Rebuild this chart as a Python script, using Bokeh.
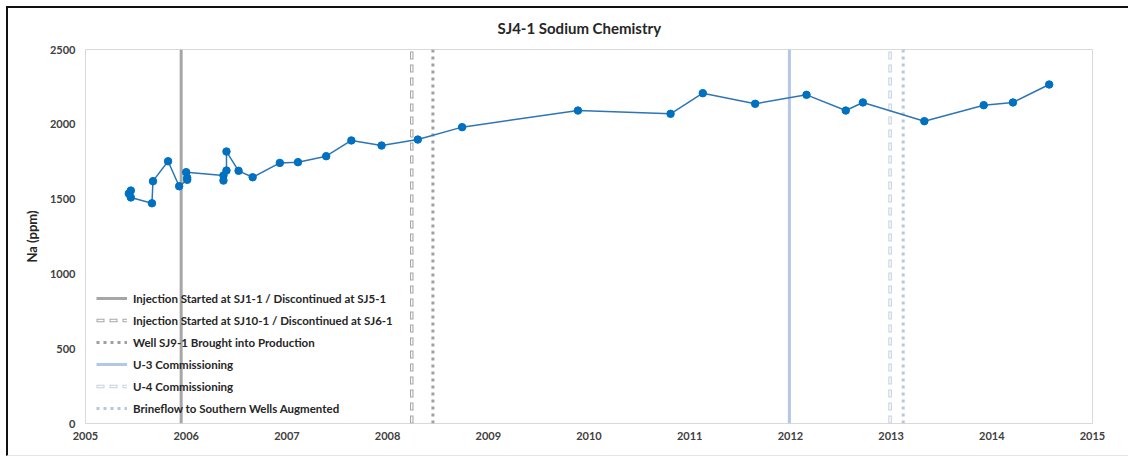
from bokeh.plotting import figure
from bokeh.models import Legend, LegendItem, FixedTicker
from bokeh.embed import file_html
from bokeh.resources import INLINE

# ---- data ----
years = [2005.43, 2005.45, 2005.45, 2005.66, 2005.67, 2005.82, 2005.93, 2006.01, 2006.01, 2006.00,
         2006.37, 2006.37, 2006.40, 2006.40, 2006.52, 2006.66, 2006.93, 2007.11, 2007.39, 2007.64,
         2007.94, 2008.30, 2008.74, 2009.89, 2010.81, 2011.13, 2011.65, 2012.16, 2012.55, 2012.72,
         2013.33, 2013.92, 2014.21, 2014.57]
na_ppm = [1537, 1557, 1511, 1472, 1620, 1753, 1586, 1629, 1642, 1680,
          1658, 1624, 1691, 1818, 1689, 1646, 1742, 1747, 1787, 1892,
          1858, 1898, 1981, 2092, 2070, 2208, 2137, 2197, 2092, 2146,
          2021, 2128, 2146, 2266]

event_labels = ["Injection Started at SJ1-1 / Discontinued at SJ5-1",
                "Injection Started at SJ10-1 / Discontinued at SJ6-1",
                "Well SJ9-1 Brought into Production",
                "U-3 Commissioning",
                "U-4 Commissioning",
                "Brineflow to Southern Wells Augmented"]
event_years = [2005.95, 2008.24, 2008.45, 2011.99, 2012.99, 2013.12]
event_styles = ["solid", "hollow", "dotted", "solid", "hollow", "dotted"]
event_colors = ["#a6a6a6", "#a6a6a6", "#a0a0a0", "#b4c7e7", "#c5d0e2", "#bcc6d6"]

x_ticks = [2005, 2006, 2007, 2008, 2009, 2010, 2011, 2012, 2013, 2014, 2015]
y_ticks = [0, 500, 1000, 1500, 2000, 2500]
y_span = [0, 2500]

FONT = "Lato"
TXT = "#404040"

p = figure(width=1122, height=450, output_backend="svg", toolbar_location=None,
           x_range=(2005, 2015), y_range=(0, 2500),
           min_border_left=77, min_border_right=38, min_border_top=41, min_border_bottom=35,
           background_fill_color="white", border_fill_color="white")
p.margin = (6, 0, 0, 6)
p.styles = {"border-left": "2px solid #111", "border-top": "2px solid #111",
            "border-bottom": "1px solid #e4e4e4"}

p.title.text = "SJ4-1 Sodium Chemistry"
p.title.align = "left"
p.title.offset = 412
p.title.vertical_align = "top"
p.title.text_font = FONT
p.title.text_font_style = "bold"
p.title.text_font_size = "15px"
p.title.text_color = "#262626"
p.title.standoff = 21

p.outline_line_color = "#d9d9d9"
p.outline_line_width = 1
p.xgrid.visible = False
p.ygrid.visible = False

for ax in (p.xaxis[0], p.yaxis[0]):
    ax.axis_line_color = None
    ax.major_tick_line_color = None
    ax.minor_tick_line_color = None
    ax.major_tick_out = 0
    ax.major_tick_in = 0
    ax.major_label_text_font = FONT
    ax.major_label_text_font_style = "bold"
    ax.major_label_text_font_size = "11px"
    ax.major_label_text_color = TXT

p.xaxis[0].ticker = FixedTicker(ticks=x_ticks)
p.yaxis[0].ticker = FixedTicker(ticks=y_ticks)
p.xaxis[0].major_label_standoff = 8
p.yaxis[0].major_label_standoff = 10
p.yaxis[0].axis_label = "Na (ppm)"
p.yaxis[0].axis_label_text_font = FONT
p.yaxis[0].axis_label_text_font_style = "bold"
p.yaxis[0].axis_label_text_font_size = "13px"
p.yaxis[0].axis_label_text_color = "#262626"
p.yaxis[0].axis_label_standoff = 7

# event lines
items = []
for lab, xv, st, col in zip(event_labels, event_years, event_styles, event_colors):
    xs = [xv, xv]
    if st == "solid":
        r = p.line(xs, y_span, line_color=col, line_width=3)
        rs = [r]
    elif st == "hollow":
        r1 = p.line(xs, y_span, line_color=col, line_width=3.5, line_dash="8 5")
        r2 = p.line(xs, y_span, line_color="white", line_width=1.4, line_dash="6 7",
                    line_dash_offset=12)
        rs = [r1, r2]
    else:
        r = p.line(xs, y_span, line_color=col, line_width=3, line_dash="3 4")
        rs = [r]
    items.append(LegendItem(label=lab, renderers=rs))

# data series
p.line(years, na_ppm, line_color="#2e75b6", line_width=1.5)
p.scatter(years, na_ppm, size=7.5, fill_color="#0070c0", line_color="#0070c0")

legend = Legend(items=items, location=(11, 4), background_fill_alpha=0,
                border_line_color=None, padding=0, spacing=0, margin=0,
                glyph_width=31, glyph_height=22, label_height=22, label_standoff=6,
                label_text_font=FONT, label_text_font_style="bold",
                label_text_font_size="11.5px", label_text_color="#262626")
p.add_layout(legend)

open("out.html", "w").write(file_html(p, INLINE))
